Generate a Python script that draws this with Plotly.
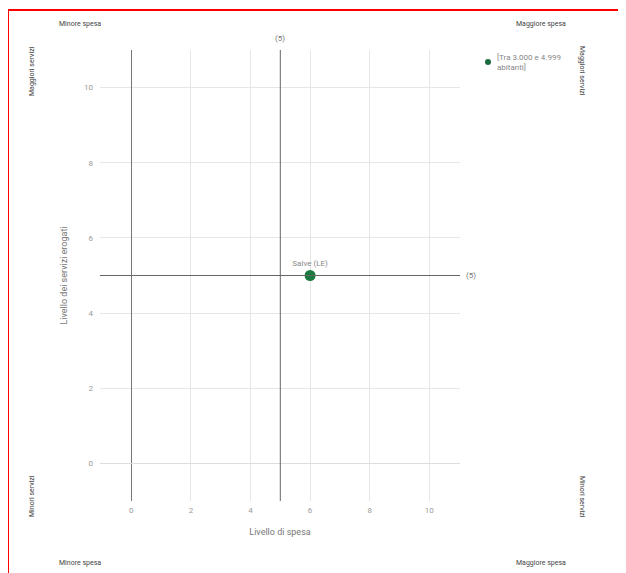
import plotly.graph_objects as go

# ---- data ----
comuni = ["Salve (LE)"]
spesa = [6]
servizi = [5]
legend_label = "[Tra 3.000 e 4.999<br>abitanti]"
ref_x = 5
ref_y = 5
x_ticks = [0, 2, 4, 6, 8, 10]
y_ticks = [0, 2, 4, 6, 8, 10]
corner_top = ["Minore spesa", "Maggiore spesa"]
corner_side = ["Maggiori servizi", "Minori servizi"]

OFF = 8  # page offset of the figure
W, H = 626 - OFF, 573 - OFF
L, R, T, B = 100 - OFF, 460 - OFF, 50 - OFF, 501 - OFF  # plot area in figure pixels


def px(x):
    return (x - OFF - L) / (R - L)


def py(y):
    return (B - (y - OFF)) / (B - T)


FONT = "Roboto, Noto Sans, sans-serif"
GREEN = "#1a7a3e"

fig = go.Figure()
fig.add_trace(go.Scatter(
    x=spesa, y=servizi, mode="markers+text", text=comuni,
    textposition="top center",
    textfont=dict(size=8, color="#888", family=FONT),
    marker=dict(size=11, color=GREEN),
    showlegend=False, hoverinfo="skip",
))

# reference lines
fig.add_shape(type="line", xref="x", yref="paper", x0=ref_x, x1=ref_x, y0=0, y1=1,
              line=dict(color="#666", width=1))
fig.add_shape(type="line", xref="paper", yref="y", x0=0, x1=1, y0=ref_y, y1=ref_y,
              line=dict(color="#666", width=1))

C = dict(xanchor="center", yanchor="middle", showarrow=False)
ann = []
ann.append(dict(x=ref_x, y=py(38), xref="x", yref="paper", text="(5)", **C,
                font=dict(size=8, color="#777", family=FONT)))
ann.append(dict(x=px(471), y=ref_y, xref="paper", yref="y", text="(5)", **C,
                font=dict(size=8, color="#777", family=FONT)))

# corner labels
corner = [
    dict(x=px(80), y=py(24), text=corner_top[0]),
    dict(x=px(541), y=py(24), text=corner_top[1]),
    dict(x=px(80), y=py(563), text=corner_top[0]),
    dict(x=px(541), y=py(563), text=corner_top[1]),
    dict(x=px(32), y=py(71), text=corner_side[0], textangle=-90),
    dict(x=px(582), y=py(71), text=corner_side[0], textangle=90),
    dict(x=px(32), y=py(496), text=corner_side[1], textangle=-90),
    dict(x=px(582), y=py(497), text=corner_side[1], textangle=90),
]
for a in corner:
    a.update(xref="paper", yref="paper", **C,
             font=dict(size=7, color="#444", family=FONT))
    ann.append(a)

# legend
ann.append(dict(x=px(495), y=py(62), xref="paper", yref="paper", text=legend_label,
                showarrow=False, xanchor="left", yanchor="middle", align="left",
                font=dict(size=8, color="#888", family=FONT)))
fig.add_shape(type="circle", xref="paper", yref="paper",
              x0=px(485), x1=px(491), y0=py(59), y1=py(65),
              fillcolor="#1b6b40", line=dict(width=0))

# red frame
fig.add_shape(type="rect", xref="paper", yref="paper", x0=px(8), x1=px(640), y0=py(10), y1=py(600),
              line=dict(color="red", width=2), fillcolor="rgba(0,0,0,0)")

fig.update_layout(
    width=W, height=H,
    margin=dict(l=L, r=W - R, t=T, b=H - B),
    paper_bgcolor="white", plot_bgcolor="white",
    font=dict(family=FONT),
    annotations=ann,
    showlegend=False,
    xaxis=dict(range=[-1.05, 11.03], tickvals=x_ticks, showgrid=True, gridcolor="#e6e6e6",
               zeroline=True, zerolinecolor="#777", zerolinewidth=1,
               tickfont=dict(size=8, color="#999"), ticks="", ticklabelstandoff=3,
               title=dict(text="Livello di spesa", font=dict(size=9, color="#777"), standoff=14),
               showline=False),
    yaxis=dict(range=[-1, 11], tickvals=y_ticks, showgrid=True, gridcolor="#e6e6e6",
               zeroline=True, zerolinecolor="#dddddd", zerolinewidth=1,
               tickfont=dict(size=8, color="#999"), ticks="", ticklabelstandoff=6,
               title=dict(text="Livello dei servizi erogati", font=dict(size=9, color="#777"), standoff=14),
               showline=False),
)

fig.write_html("out.html")
